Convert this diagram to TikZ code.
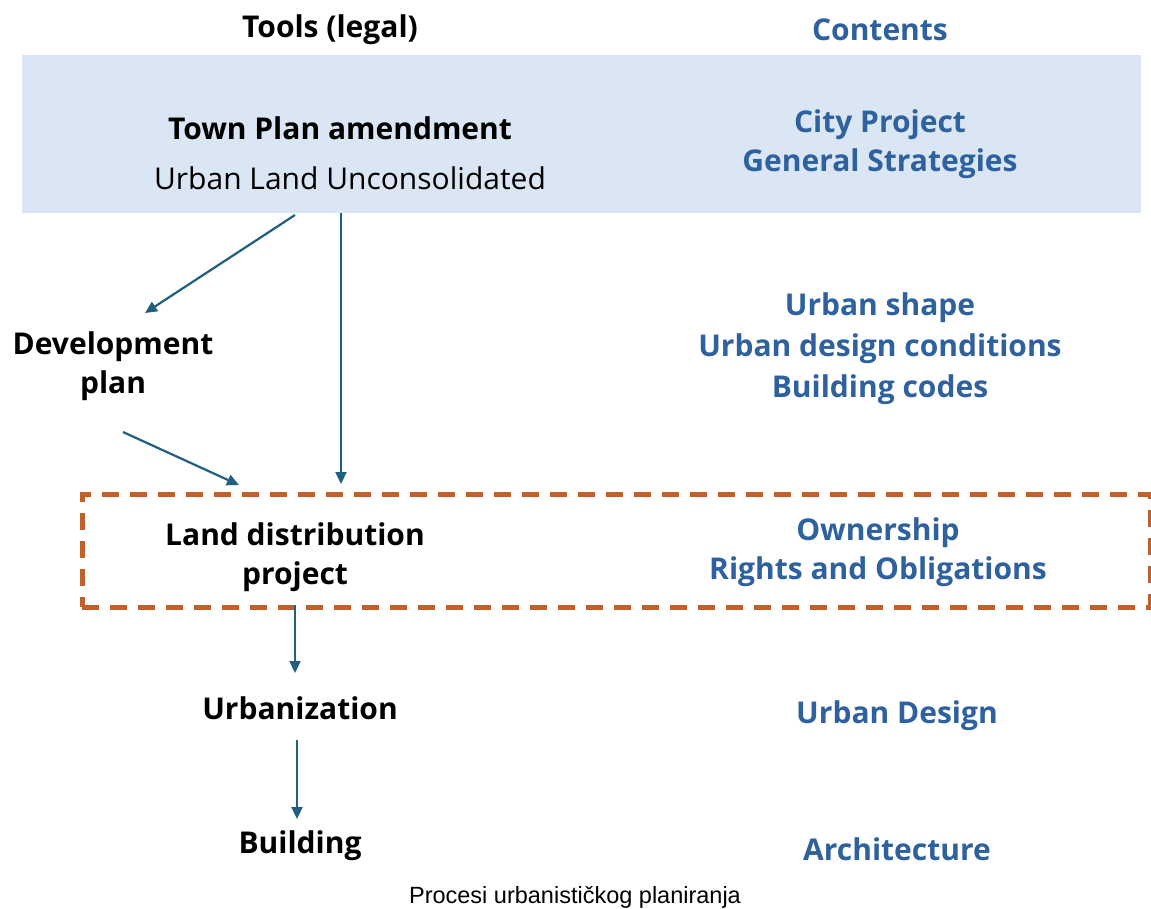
\documentclass[tikz,border=0pt]{standalone}
\usepackage{fontspec}
\setmainfont{Open Sans}
\newfontfamily\capfont{Liberation Sans}
\usetikzlibrary{arrows.meta}
\definecolor{boxblue}{HTML}{DAE6F3}
\definecolor{txtblue}{HTML}{2E619E}
\definecolor{arrblue}{HTML}{1F5F80}
\definecolor{dashor}{HTML}{C0602A}
\tikzset{
  tool/.style={font=\fontsize{30}{39}\selectfont\bfseries, text=black, align=center, inner sep=0pt},
  plain/.style={font=\fontsize{30}{39}\selectfont, text=black, align=center, inner sep=0pt},
  content/.style={font=\fontsize{30}{39}\selectfont\bfseries, text=txtblue, align=center, inner sep=0pt},
  flow/.style={draw=arrblue, line width=2.2pt, -{Triangle[length=12pt,width=11pt]}},
}
\begin{document}
\begin{tikzpicture}[x=1pt,y=-1pt]
\useasboundingbox (0,0) rectangle (1151,908);
\fill[white] (0,0) rectangle (1151,908);
% boxes
\node[fill=boxblue, minimum width=1119pt, minimum height=158pt, inner sep=0pt, anchor=north west] (tp) at (22,55) {};
\node[draw=dashor, line width=4.5pt, dash pattern=on 17pt off 11pt, minimum width=1068pt, minimum height=113pt, inner sep=0pt, anchor=north west] (ld) at (80,492) {};
% headers
\node[tool] (tools) at (330,30) {Tools (legal)};
\node[content] (contents) at (880,30) {Contents};
% left column
\node[tool] (town) at (340,128) {Town Plan amendment};
\node[plain] (ulu) at (350,178) {Urban Land Unconsolidated};
\node[tool] (dev) at (113,366) {Development\\plan};
\node[tool] (land) at (295,557) {Land distribution\\project};
\node[tool] (urb) at (300,708) {Urbanization};
\node[tool] (bld) at (300,846) {Building};
% right column
\node[content] (city) at (880,144) {City Project\\General Strategies};
\node[content, font=\fontsize{30}{41}\selectfont\bfseries] (shape) at (880,349) {Urban shape\\Urban design conditions\\Building codes};
\node[content] (own) at (878,552) {Ownership\\Rights and Obligations};
\node[content] (ud) at (897,716) {Urban Design};
\node[content] (arch) at (897,849) {Architecture};
% caption
\node[font=\capfont\fontsize{23.5}{27}\selectfont, inner sep=0pt] (cap) at (575,897) {Procesi urbanističkog planiranja};
% connector end points
\coordinate (a1s) at (295,215);
\coordinate (a1e) at (145,313);
\coordinate (a2s) at (341,213);
\coordinate (a2e) at (341,484);
\coordinate (a3s) at (123,432);
\coordinate (a3e) at (239,485);
\coordinate (a4s) at (295,605);
\coordinate (a4e) at (295,673);
\coordinate (a5s) at (297,740);
\coordinate (a5e) at (297,819);
\draw[flow] (a1s) -- (a1e);
\draw[flow] (a2s) -- (a2e);
\draw[flow] (a3s) -- (a3e);
\draw[flow] (a4s) -- (a4e);
\draw[flow] (a5s) -- (a5e);
\end{tikzpicture}
\end{document}
